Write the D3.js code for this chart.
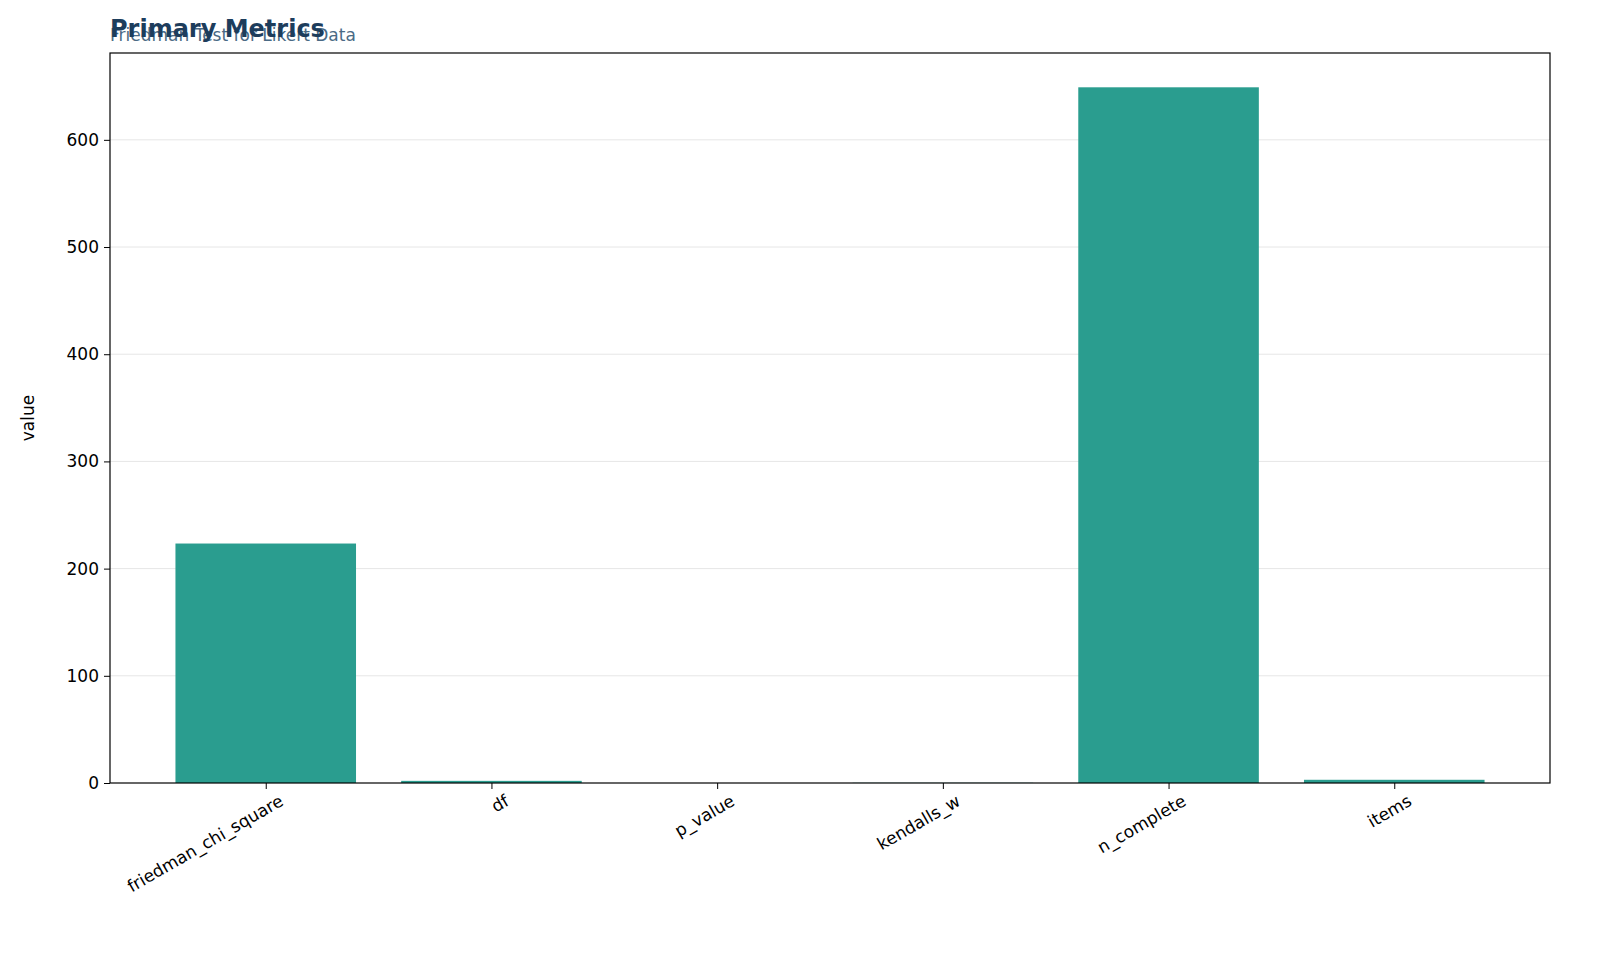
<!DOCTYPE html>
<html><head><meta charset="utf-8">
<script src="https://cdn.jsdelivr.net/npm/d3@7"></script>
<style>body{margin:0;background:#fff}svg{font-family:"DejaVu Sans",sans-serif}</style>
</head><body><svg id="c" width="1600" height="978"></svg>
<script>
const categories = ['friedman_chi_square', 'df', 'p_value', 'kendalls_w', 'n_complete', 'items'];
const values = [223.4, 2, 0.0000001, 0.17, 649, 3];
const yTicks = [0, 100, 200, 300, 400, 500, 600];

const svg = d3.select('#c');
const m = { left: 110, right: 1550, top: 53, bottom: 783 };

const x = d3.scaleLinear().domain([-0.69, 5.69]).range([m.left, m.right]);
const y = d3.scaleLinear().domain([0, 681]).range([m.bottom, m.top]);
const bw = x(0.4) - x(-0.4);

// grid
svg.append('g').selectAll('line').data(yTicks.slice(1)).join('line')
  .attr('x1', m.left).attr('x2', m.right)
  .attr('y1', d => y(d)).attr('y2', d => y(d))
  .attr('stroke', '#e6e6e6').attr('stroke-width', 1);

svg.append('g').selectAll('rect').data(values).join('rect')
  .attr('x', (d, i) => x(i) - bw / 2)
  .attr('width', bw)
  .attr('y', d => y(d))
  .attr('height', d => y(0) - y(d))
  .attr('fill', '#2a9d8f');

const yAxis = svg.append('g').attr('transform', `translate(${m.left},0)`)
  .call(d3.axisLeft(y).tickValues(yTicks).tickSize(6).tickPadding(5))
  .attr('font-family', '"DejaVu Sans", sans-serif');
yAxis.selectAll('text').attr('font-size', 17).attr('fill', '#000');

const xAxis = svg.append('g').attr('transform', `translate(0,${m.bottom})`)
  .call(d3.axisBottom(x).tickValues(d3.range(categories.length)).tickFormat(i => categories[i]).tickSize(6))
  .attr('font-family', '"DejaVu Sans", sans-serif');
xAxis.selectAll('text').attr('font-size', 17).attr('fill', '#000')
  .attr('text-anchor', 'end').attr('dx', '0.3em').attr('dy', '1.1em')
  .attr('transform', 'rotate(-30)');
svg.selectAll('.domain').remove();

svg.append('rect').attr('x', m.left).attr('y', m.top)
  .attr('width', m.right - m.left).attr('height', m.bottom - m.top)
  .attr('fill', 'none').attr('stroke', '#000').attr('stroke-width', 1.2);

svg.append('text').attr('transform', `translate(34,${(m.top + m.bottom) / 2}) rotate(-90)`)
  .attr('text-anchor', 'middle').attr('font-size', 17).text('value');

svg.append('text').attr('x', 110).attr('y', 41).attr('font-size', 17)
  .attr('fill', '#4a6a85').text('Friedman Test for Likert Data');
svg.append('text').attr('x', 110).attr('y', 37).attr('font-size', 24)
  .attr('font-weight', 'bold').attr('fill', '#1d3d5c').text('Primary Metrics');
</script></body></html>
